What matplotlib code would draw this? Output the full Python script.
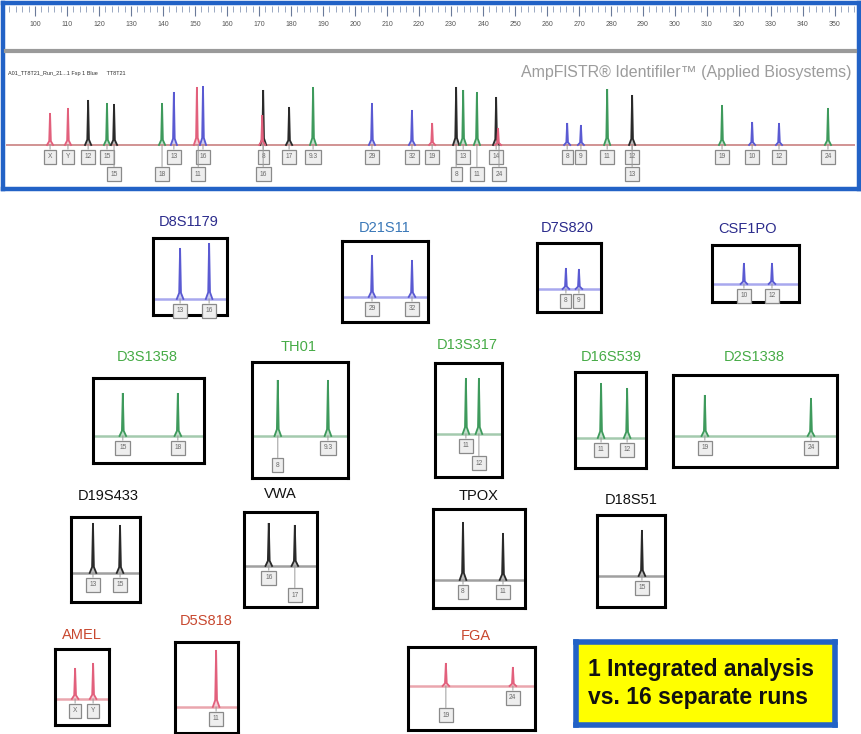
import matplotlib.pyplot as plt

# ---- combined run (all dyes in one capillary) ----
run_sizes = [104.7, 110.3, 116.6, 122.5, 124.7, 139.7, 143.4, 150.6, 152.5, 171.3,
             171.0, 179.4, 186.9, 205.3, 217.8, 224.1, 231.6, 233.8, 238.1, 244.1,
             244.7, 266.3, 270.6, 278.8, 286.6, 314.7, 324.1, 332.5, 347.8]
run_heights = [640, 740, 900, 840, 820, 840, 1060, 1160, 1180, 1100,
               600, 760, 1160, 840, 700, 440, 1160, 1100, 1060, 960,
               340, 440, 400, 1120, 1000, 800, 460, 440, 740]
run_dyes = ["red", "red", "yellow", "green", "yellow", "green", "blue", "red", "blue", "yellow",
            "red", "yellow", "green", "blue", "blue", "red", "yellow", "green", "green", "yellow",
            "red", "blue", "blue", "green", "yellow", "green", "blue", "blue", "green"]

# allele calls shown under the combined trace
call_sizes = [104.7, 110.3, 116.6, 122.5, 143.4, 152.5, 171.3, 179.4, 186.9, 205.3,
              217.8, 224.1, 233.8, 244.1, 266.3, 270.6, 278.8, 286.6, 314.7, 324.1,
              332.5, 347.8,
              124.7, 139.7, 151.0, 171.3, 231.6, 238.1, 245.0, 286.6]
call_texts = ["X", "Y", "12", "15", "13", "16", "8", "17", "9.3", "29",
              "32", "19", "13", "14", "8", "9", "11", "12", "19", "10",
              "12", "24",
              "15", "18", "11", "16", "8", "11", "24", "13"]
call_rows = [1] * 22 + [2] * 8

ruler_ticks = list(range(100, 360, 10))

# ---- single-locus runs ----
locus_names = ["D8S1179", "D21S11", "D7S820", "CSF1PO",
               "D3S1358", "TH01", "D13S317", "D16S539", "D2S1338",
               "D19S433", "VWA", "TPOX", "D18S51",
               "AMEL", "D5S818", "FGA"]
locus_dyes = ["blue", "blue", "blue", "blue",
              "green", "green", "green", "green", "green",
              "yellow", "yellow", "yellow", "yellow",
              "red", "red", "red"]
locus_alleles = [["13", "16"], ["29", "32"], ["8", "9"], ["10", "12"],
                 ["15", "18"], ["8", "9.3"], ["11", "12"], ["11", "12"], ["19", "24"],
                 ["13", "15"], ["16", "17"], ["8", "11"], ["15"],
                 ["X", "Y"], ["11"], ["19", "24"]]
locus_sizes = [[136, 148], [209, 221], [262, 266], [321, 329],
               [122, 134], [175, 182], [230, 234], [276, 280], [312, 332],
               [115, 123], [168, 172], [232, 244], [286],
               [105, 111], [151], [225, 245]]
locus_heights = [[1020, 1120], [840, 740], [420, 400], [420, 420],
                 [860, 860], [1120, 1120], [1120, 1120], [1100, 1000], [820, 760],
                 [1000, 960], [860, 820], [1160, 940], [920],
                 [620, 720], [1140], [460, 380]]
locus_rows = [[1, 1], [1, 1], [1, 1], [1, 1],
              [1, 1], [2, 1], [1, 2], [1, 1], [1, 1],
              [1, 1], [1, 2], [1, 1], [1],
              [1, 1], [1], [2, 1]]

# ---- page layout (pixels) ----
W, H = 862, 734
RFU_PER_PX = 20
# box (l, t, r, b), baseline y, x range (bp), title centre
layout = [
    ((153, 238, 227, 315), 299, (124.8, 155.4), (189, 222)),
    ((342, 241, 428, 322), 297, (200.0, 225.8), (385, 228)),
    ((537, 243, 601, 312), 289, (253.1, 272.8), (567, 228)),
    ((712, 245, 799, 302), 284, (311.9, 336.7), (748, 229)),
    ((93, 378, 204, 463), 436, (115.5, 139.7), (147, 357)),
    ((252, 362, 348, 478), 436, (171.4, 184.8), (299, 347)),
    ((435, 363, 502, 477), 434, (220.5, 241.1), (467, 345)),
    ((575, 372, 646, 468), 438, (272.0, 282.9), (611, 357)),
    ((673, 375, 837, 467), 436, (306.0, 336.9), (754, 357)),
    ((71, 517, 140, 602), 573, (108.5, 128.9), (108, 496)),
    ((244, 512, 317, 607), 566, (164.2, 175.4), (280, 494)),
    ((433, 509, 525, 608), 580, (223.0, 250.6), (479, 496)),
    ((597, 515, 665, 607), 576, (271.0, 293.7), (631, 500)),
    ((55, 649, 109, 725), 699, (98.3, 116.3), (82, 635)),
    ((175, 642, 238, 733), 707, (137.3, 158.3), (206, 621)),
    ((408, 647, 535, 730), 686, (213.7, 251.6), (476, 636)),
]

peak_color = {"blue": "#5a5ad2", "green": "#3e9a5c", "yellow": "#2a2a2a", "red": "#e2607c"}
base_color = {"blue": "#a8a8ee", "green": "#a4caae", "yellow": "#a0a0a0", "red": "#eaa6ae"}
title_color = {"blue": "#2b2b8c", "green": "#46ab46", "yellow": "#111111", "red": "#c8482f"}

plt.rcParams["font.family"] = ["Liberation Sans", "DejaVu Sans"]

fig = plt.figure(figsize=(W / 100, H / 100), dpi=100)
fig.patch.set_facecolor("white")


def px_axes(l, t, r, b):
    return fig.add_axes([l / W, 1 - b / H, (r - l) / W, (b - t) / H])


def bare(ax):
    ax.set_xticks([])
    ax.set_yticks([])
    for sp in ax.spines.values():
        sp.set_visible(False)


def draw_peak(ax, size, height, dye, half_w):
    xs = [size - 2.2 * half_w, size - 0.6 * half_w, size, size + 0.6 * half_w, size + 2.2 * half_w]
    ys = [0, height * 0.12, height, height * 0.12, 0]
    ax.fill(xs, ys, color=peak_color[dye], alpha=0.3, lw=0)
    ax.plot(xs, ys, color=peak_color[dye], lw=1.3, solid_joinstyle="miter")


def draw_call(ax, size, text, row):
    off = -8.5 if row == 1 else -21
    ax.annotate(text, (size, 0), xytext=(0, off), textcoords="offset points",
                ha="center", va="center", fontsize=4.8, color="#6a6a6a",
                bbox=dict(boxstyle="square,pad=0.55", fc="#eeeeee", ec="#8a8a8a", lw=0.9),
                arrowprops=dict(arrowstyle="-", color="#9a9a9a", lw=0.7,
                                shrinkA=0, shrinkB=0))


# ---- combined electropherogram panel ----
frame = px_axes(3, 3, 859, 189)
frame.set_xticks([])
frame.set_yticks([])
for sp in frame.spines.values():
    sp.set_color("#2262c6")
    sp.set_linewidth(3.2)

x_range = (100 - 29 / 3.2, 100 + 820 / 3.2)

ruler = px_axes(6, 6, 855, 51)
ruler.set_xlim(*x_range)
ruler.set_ylim(0, 1)
ruler.set_yticks([])
for name in ("top", "left", "right"):
    ruler.spines[name].set_visible(False)
ruler.spines["bottom"].set_color("#9a9a9a")
ruler.spines["bottom"].set_linewidth(3)
ruler.xaxis.tick_top()
ruler.set_xticks(ruler_ticks)
ruler.set_xticks(list(range(92, 357, 2)), minor=True)
ruler.set_xticklabels([str(t) for t in ruler_ticks])
ruler.tick_params(axis="x", which="major", direction="in", length=7, width=0.8,
                  color="#6a7a9a", labelsize=5, labelcolor="#555555", pad=-16)
ruler.tick_params(axis="x", which="minor", direction="in", length=4, width=0.6,
                  color="#8a9ab8")

trace = px_axes(6, 56, 855, 186)
bare(trace)
trace.set_xlim(*x_range)
trace.set_ylim(-(186 - 145) * RFU_PER_PX, (145 - 56) * RFU_PER_PX)
trace.axhline(0, color="#c98080", lw=1.2)
hw_run = (x_range[1] - x_range[0]) / (855 - 6) * 1.4
for s, h, d in zip(run_sizes, run_heights, run_dyes):
    draw_peak(trace, s, h, d, hw_run)
for s, t, r in zip(call_sizes, call_texts, call_rows):
    draw_call(trace, s, t, r)

fig.text(8 / W, 1 - 73 / H, "A01_TT8T21_Run_21...1 Fsp 1 Blue      TT8T21",
         fontsize=4, color="#333333", va="center", ha="left")
fig.text(852 / W, 1 - 72 / H, "AmpFlSTR\u00ae Identifiler\u2122 (Applied Biosystems)",
         fontsize=11.5, color="#9c9c9c", va="center", ha="right")

# ---- one box per locus ----
for i, name in enumerate(locus_names):
    (l, t, r, b), base_y, xr, (tx, ty) = layout[i]
    dye = locus_dyes[i]
    ax = px_axes(l, t, r, b)
    ax.set_xticks([])
    ax.set_yticks([])
    for sp in ax.spines.values():
        sp.set_color("black")
        sp.set_linewidth(2.2)
    ax.set_xlim(*xr)
    ax.set_ylim(-(b - base_y) * RFU_PER_PX, (base_y - t) * RFU_PER_PX)
    ax.axhline(0, color=base_color[dye], lw=1.8)
    hw = (xr[1] - xr[0]) / (r - l) * 1.5
    for s, hgt, al, row in zip(locus_sizes[i], locus_heights[i], locus_alleles[i], locus_rows[i]):
        draw_peak(ax, s, hgt, dye, hw)
        draw_call(ax, s, al, row)
    tc = "#3a78b8" if name == "D21S11" else title_color[dye]
    fig.text(tx / W, 1 - ty / H, name, fontsize=10.5, color=tc, ha="center", va="center")

# ---- summary note ----
note = px_axes(576, 642, 835, 725)
note.set_facecolor("#ffff00")
note.set_xticks([])
note.set_yticks([])
for sp in note.spines.values():
    sp.set_color("#2262c6")
    sp.set_linewidth(4)
note.text(0.045, 0.5, "1 Integrated analysis\nvs. 16 separate runs", transform=note.transAxes,
          fontsize=16.5, fontweight="bold", color="#111111", ha="left", va="center",
          linespacing=1.3)

fig.savefig("out.png", dpi=100)
